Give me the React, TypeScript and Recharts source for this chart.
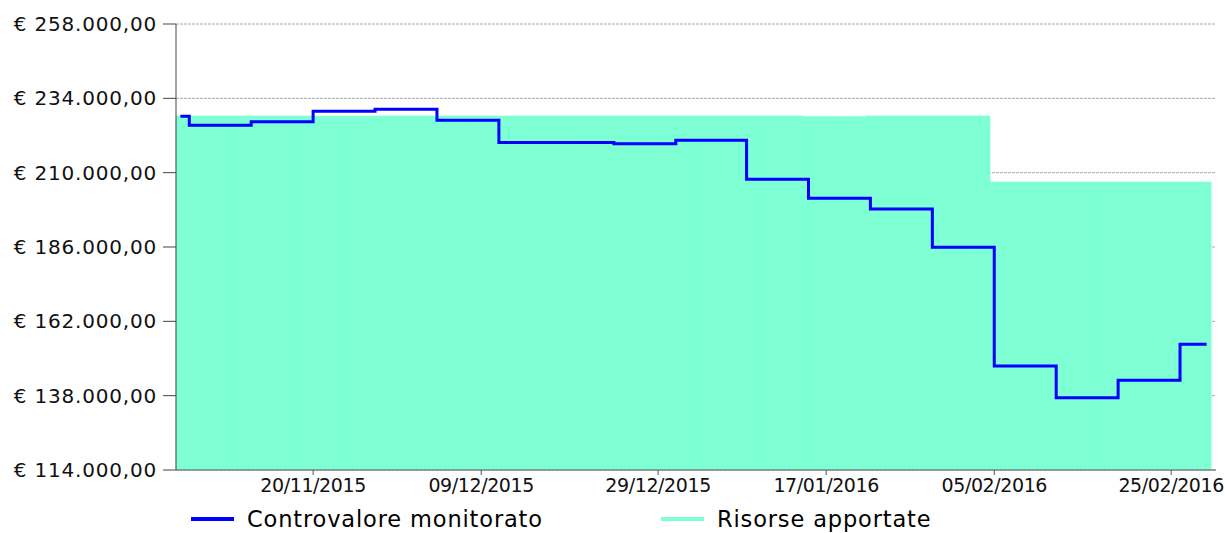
import React from "react";
import {
  ComposedChart,
  Bar,
  Line,
  XAxis,
  YAxis,
  CartesianGrid,
  Legend
} from "recharts";

// one category per day, starting 05/11/2015
const START_DAY = Date.UTC(2015, 10, 5);
const DAY_COUNT = 117;

const pad = (n: number) => String(n).padStart(2, "0");
const days = Array.from({ length: DAY_COUNT }, (_, i) => {
  const d = new Date(START_DAY + i * 86400000);
  return `${pad(d.getUTCDate())}/${pad(d.getUTCMonth() + 1)}/${d.getUTCFullYear()}`;
});

// Controvalore monitorato (one row per week)
const controvalore = [
  228200, 225300, 225300, 225300, 225300, 225300, 225300,
  225300, 226400, 226400, 226400, 226400, 226400, 226400,
  226400, 229800, 229800, 229800, 229800, 229800, 229800,
  229800, 230500, 230500, 230500, 230500, 230500, 230500,
  230500, 226900, 226900, 226900, 226900, 226900, 226900,
  226900, 219700, 219700, 219700, 219700, 219700, 219700,
  219700, 219700, 219700, 219700, 219700, 219700, 219700,
  219300, 219300, 219300, 219300, 219300, 219300, 219300,
  220500, 220500, 220500, 220500, 220500, 220500, 220500,
  220500, 207900, 207900, 207900, 207900, 207900, 207900,
  207900, 201700, 201700, 201700, 201700, 201700, 201700,
  201700, 198300, 198300, 198300, 198300, 198300, 198300,
  198300, 185900, 185900, 185900, 185900, 185900, 185900,
  185900, 147600, 147600, 147600, 147600, 147600, 147600,
  147600, 137300, 137300, 137300, 137300, 137300, 137300,
  137300, 143000, 143000, 143000, 143000, 143000, 143000,
  143000, 154600, 154600, 154600, 154600
];

// Risorse apportate (one row per week)
const risorse = [
  228300, 228300, 228300, 228300, 228300, 228300, 228300,
  228300, 228300, 228300, 228300, 228300, 228300, 228300,
  228300, 228300, 228300, 228300, 228300, 228300, 228300,
  228300, 228300, 228300, 228300, 228300, 228300, 228300,
  228300, 228300, 228300, 228300, 228300, 228300, 228300,
  228300, 228300, 228300, 228300, 228300, 228300, 228300,
  228300, 228300, 228300, 228300, 228300, 228300, 228300,
  228300, 228300, 228300, 228300, 228300, 228300, 228300,
  228300, 228300, 228300, 228300, 228300, 228300, 228300,
  228300, 228300, 228300, 228300, 228300, 228300, 228300,
  228300, 228100, 228100, 228100, 228100, 228100, 228100,
  228100, 228300, 228300, 228300, 228300, 228300, 228300,
  228300, 228300, 228300, 228300, 228300, 228300, 228300,
  228300, 207000, 207000, 207000, 207000, 207000, 207000,
  207000, 207000, 207000, 207000, 207000, 207000, 207000,
  207000, 207000, 207000, 207000, 207000, 207000, 207000,
  207000, 207000, 207000, 207000, 207000
];

const xTicks = ["20/11/2015", "09/12/2015", "29/12/2015", "17/01/2016", "05/02/2016", "25/02/2016"];
const yTicks = [114000, 138000, 162000, 186000, 210000, 234000, 258000];

const SERIES = [
  { key: "controvalore", name: "Controvalore monitorato", color: "#0000ff" },
  { key: "risorse", name: "Risorse apportate", color: "#7fffd4" }
];

const data = days.map((day, i) => ({
  day,
  controvalore: controvalore[i],
  risorse: risorse[i]
}));

const formatEuro = (v: number) => {
  const int = Math.round(v).toString().replace(/\B(?=(\d{3})+(?!\d))/g, ".");
  return `€ ${int},00`;
};

const FONT = '"DejaVu Sans", Verdana, sans-serif';

function LegendContent() {
  const lefts = [191, 661];
  return (
    <div style={{ position: "relative", height: 33, fontFamily: FONT, fontSize: 22.5, letterSpacing: 0.85, color: "#000" }}>
      {SERIES.map((s, i) => (
        <div key={s.key} style={{ position: "absolute", left: lefts[i], top: 6, height: 26, display: "flex", alignItems: "center", whiteSpace: "nowrap" }}>
          <span style={{ display: "inline-block", width: 43, height: 4, background: s.color, marginRight: 13 }} />
          <span>{s.name}</span>
        </div>
      ))}
    </div>
  );
}

export default function App() {
  return (
    <div style={{ position: "absolute", left: 0, top: 0, width: 1225, height: 533, background: "#fff" }}>
      <ComposedChart
        width={1225}
        height={533}
        data={data}
        margin={{ top: 24, right: 9, left: 0, bottom: 0 }}
        barCategoryGap={0}
        barGap={0}
      >
        <CartesianGrid horizontal vertical={false} stroke="#a8a8a8" strokeDasharray="3 1" />
        <XAxis
          dataKey="day"
          ticks={xTicks}
          interval={0}
          height={30}
          padding={{ left: 0, right: 5 }}
          stroke="#555"
          tickSize={5}
          tickMargin={4}
          tick={{ fill: "#111", fontSize: 19, fontFamily: FONT, letterSpacing: -0.4 }}
        />
        <YAxis
          type="number"
          domain={[114000, 258000]}
          ticks={yTicks}
          width={176}
          stroke="#444"
          tickSize={13}
          tickMargin={6}
          tickFormatter={formatEuro}
          tick={{ fill: "#111", fontSize: 20, fontFamily: FONT, letterSpacing: 0.8 }}
          allowDataOverflow
        />
        <Bar
          dataKey="risorse"
          name="Risorse apportate"
          fill="#7fffd4"
          stroke="#7fffd4"
          strokeWidth={0.6}
          isAnimationActive={false}
        />
        <Line
          dataKey="controvalore"
          name="Controvalore monitorato"
          type="stepAfter"
          stroke="#0000ff"
          strokeWidth={3}
          dot={false}
          activeDot={false}
          isAnimationActive={false}
        />
        <Legend verticalAlign="bottom" content={<LegendContent />} />
      </ComposedChart>
    </div>
  );
}
